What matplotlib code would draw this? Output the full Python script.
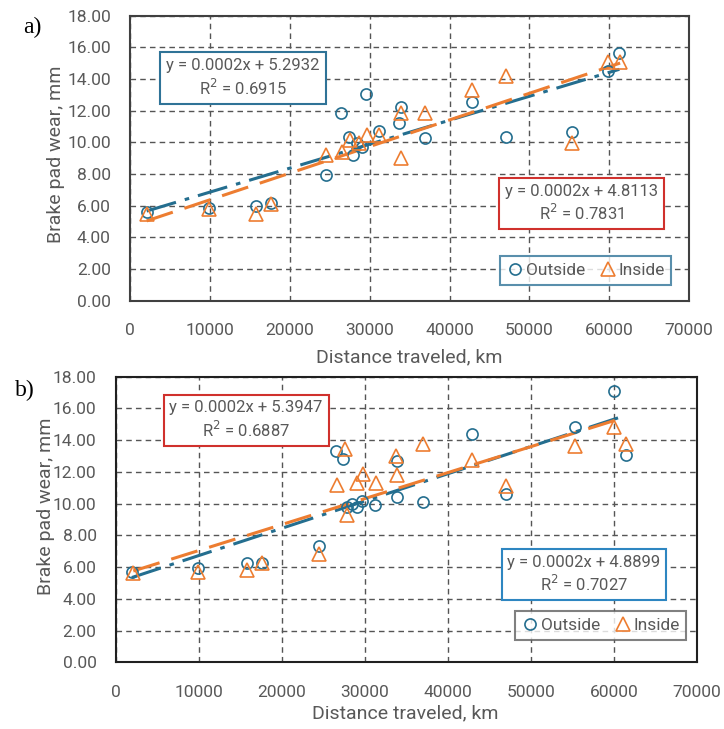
# ブレーキパッド摩耗と走行距離
import numpy as np
import matplotlib
matplotlib.use('Agg')
import matplotlib.pyplot as plt

plt.rcParams['font.family'] = ['Roboto', 'DejaVu Sans']

# a) データ
a_out_x = [2055, 9862, 15714, 17632, 24524, 26366, 27368, 27945, 28400, 29073,
           29536, 31165, 33709, 33922, 36930, 42782, 47043, 55313, 59900, 61278]
a_out_y = [5.62, 5.84, 5.98, 6.19, 7.92, 11.84, 10.32, 9.20, 9.95, 9.73,
           13.06, 10.74, 11.21, 12.22, 10.29, 12.57, 10.36, 10.64, 14.53, 15.63]
a_in_x = [2055, 9862, 15714, 17632, 24524, 26491, 27531, 28697, 29624, 31203,
          33922, 33922, 36930, 42782, 47043, 55313, 59900, 61366]
a_in_y = [5.48, 5.77, 5.48, 6.10, 9.20, 9.41, 10.15, 9.98, 10.47, 10.47,
          11.84, 9.00, 11.84, 13.31, 14.19, 9.94, 15.06, 15.06]

# b) データ
b_out_x = [1900, 9916, 15819, 17554, 24494, 26506, 27386, 27795, 28398, 29000,
           29675, 31205, 33819, 33819, 36952, 42855, 46988, 55301, 60000, 61446]
b_out_y = [5.71, 5.92, 6.24, 6.24, 7.35, 13.31, 12.79, 9.80, 9.97, 9.80,
           10.18, 9.91, 10.40, 12.70, 10.12, 14.37, 10.60, 14.81, 17.10, 13.06]
b_in_x = [2084, 9916, 15819, 17554, 24494, 26590, 27590, 27867, 29000, 29723,
          31325, 33735, 33819, 36952, 42855, 46988, 55301, 60000, 61446]
b_in_y = [5.61, 5.71, 5.82, 6.24, 6.82, 11.17, 13.42, 9.28, 11.28, 11.87,
          11.28, 13.00, 11.80, 13.76, 12.75, 11.11, 13.63, 14.85, 13.75]

# 近似式ラベル
a_out_eq = 'y = 0.0002x + 5.2932\nR$^2$ = 0.6915'
a_in_eq = 'y = 0.0002x + 4.8113\nR$^2$ = 0.7831'
b_in_eq = 'y = 0.0002x + 5.3947\nR$^2$ = 0.6887'
b_out_eq = 'y = 0.0002x + 4.8899\nR$^2$ = 0.7027'

blue = '#246E8F'
orange = '#ED7D31'
gray = '#595959'

W, H = 724, 729
fig = plt.figure(figsize=(W / 100, H / 100), dpi=100)


def px_axes(x0, x1, top, bottom):
    return fig.add_axes([x0 / W, 1 - bottom / H, (x1 - x0) / W, (bottom - top) / H])


def trend(ax, x, y, color, dashes):
    k, b = np.polyfit(x, y, 1)
    xs = np.array([min(x), max(x)])
    ax.plot(xs, k * xs + b, color=color, lw=2.2, dashes=dashes, zorder=2)


def panel(ax, ox, oy, ix, iy, spine_c):
    ax.plot(ox, oy, 'o', ms=8, mfc='none', mec=blue, mew=1.2, label='Outside', zorder=3)
    ax.plot(ix, iy, '^', ms=9.5, mfc='none', mec=orange, mew=1.2, label='Inside', zorder=3)
    trend(ax, ox, oy, blue, (10, 3, 1.5, 3))
    trend(ax, ix, iy, orange, (9, 4))
    ax.set_xlim(0, 70000)
    ax.set_ylim(0, 18)
    ax.set_xticks(np.arange(0, 70001, 10000))
    ax.set_yticks(np.arange(0, 18.1, 2))
    ax.yaxis.set_major_formatter(plt.FormatStrFormatter('%.2f'))
    ax.grid(True, color='#555555', ls=(0, (4, 3)), lw=1.0)
    ax.set_axisbelow(True)
    ax.tick_params(length=0, labelsize=12.5, labelcolor=gray)
    ax.tick_params(axis='y', pad=14)
    ax.tick_params(axis='x', pad=16)
    for s in ax.spines.values():
        s.set_color(spine_c)
        s.set_linewidth(1.5)
    ax.set_xlabel('Distance traveled, km', fontsize=14, color=gray)
    ax.set_ylabel('Brake pad wear, mm', fontsize=14, color=gray)


def eqbox(ax, x, y, s, ec):
    ax.text(x, y, s, transform=ax.transAxes, ha='center', va='center', fontsize=12,
            color=gray, linespacing=1.25,
            bbox=dict(boxstyle='square,pad=0.35', fc='white', ec=ec, lw=1.5), zorder=5)


# a)
ax1 = px_axes(130.3, 689, 15.7, 300.7)
panel(ax1, a_out_x, a_out_y, a_in_x, a_in_y, '#404040')
ax1.xaxis.set_label_coords(0.5, -0.166)
ax1.yaxis.set_label_coords(-0.117, 0.513)
eqbox(ax1, 0.2017, 0.7814, a_out_eq, '#2F7397')
eqbox(ax1, 0.808, 0.342, a_in_eq, '#D0312D')
leg = ax1.legend(loc='lower right', bbox_to_anchor=(0.984, 0.0235), ncol=2, fontsize=12.5,
                 frameon=True, fancybox=False, handletextpad=0.1, columnspacing=0.8,
                 handlelength=1.0, borderpad=0.4, labelcolor=gray)
leg.get_frame().set_edgecolor('#2F7397')
leg.get_frame().set_linewidth(1.5)

# b)
ax2 = px_axes(116, 697, 376.7, 662.3)
panel(ax2, b_out_x, b_out_y, b_in_x, b_in_y, '#202020')
ax2.xaxis.set_label_coords(0.497, -0.146)
ax2.yaxis.set_label_coords(-0.105, 0.547)
eqbox(ax2, 0.2238, 0.848, b_in_eq, '#D0312D')
eqbox(ax2, 0.8055, 0.3074, b_out_eq, '#2E86C1')
leg = ax2.legend(loc='lower right', bbox_to_anchor=(0.9966, 0.049), ncol=2, fontsize=12.5,
                 frameon=True, fancybox=False, handletextpad=0.1, columnspacing=0.8,
                 handlelength=1.0, borderpad=0.4, labelcolor=gray)
leg.get_frame().set_edgecolor('#606060')
leg.get_frame().set_linewidth(1.5)

fig.text(32 / W, 1 - 27 / H, 'a)', fontsize=17, family='Liberation Serif', ha='center', va='center')
fig.text(25 / W, 1 - 390 / H, 'b)', fontsize=17, family='Liberation Serif', ha='center', va='center')

fig.savefig('out.png', dpi=100)
